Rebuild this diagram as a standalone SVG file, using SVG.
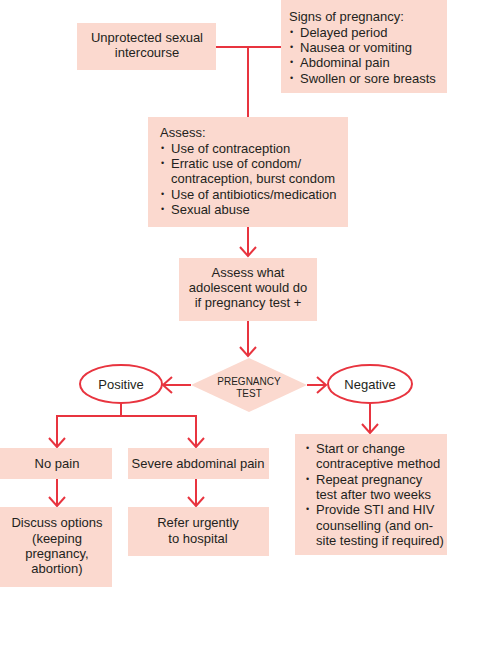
<svg xmlns="http://www.w3.org/2000/svg" width="484" height="672" viewBox="0 0 484 672">
<defs>
<style>
.box{fill:#fbd9cf;stroke:none}
.t{font-family:"Liberation Sans",Arial,sans-serif;font-size:13px;fill:#231f20}
.c{text-anchor:middle}
.s{font-size:10px}
.b{font-size:9px}
.ln{fill:none;stroke:#e8343f;stroke-width:2}
.ell{fill:#fff;stroke:#e8343f;stroke-width:2}
</style>
<marker id="ah" markerUnits="userSpaceOnUse" viewBox="0 0 12 18" refX="10" refY="9" markerWidth="12" markerHeight="18" orient="auto">
<path d="M1,1 L10,9 L1,17" fill="none" stroke="#e8343f" stroke-width="2"/>
</marker>
</defs>
<rect width="484" height="672" fill="#fff"/>
<g id="connectors">
<path class="ln" d="M216,47 H281"/>
<path class="ln" d="M248,47 V117"/>
<path class="ln" d="M248,227 V256" marker-end="url(#ah)"/>
<path class="ln" d="M248,321 V356" marker-end="url(#ah)"/>
<path class="ln" d="M191,385 H163" marker-end="url(#ah)"/>
<path class="ln" d="M307,385 H326" marker-end="url(#ah)"/>
<path class="ln" d="M121,403 V416"/>
<path class="ln" d="M57,416 H196"/>
<path class="ln" d="M57,415 V447" marker-end="url(#ah)"/>
<path class="ln" d="M196,415 V447" marker-end="url(#ah)"/>
<path class="ln" d="M57,479 V506" marker-end="url(#ah)"/>
<path class="ln" d="M196,479 V506" marker-end="url(#ah)"/>
<path class="ln" d="M370,403 V433" marker-end="url(#ah)"/>
</g>
<g id="n-unprotected">
<rect class="box" x="77" y="23" width="139" height="47"/>
<text class="t c" x="147" y="42">Unprotected sexual</text>
<text class="t c" x="147" y="57">intercourse</text>
</g>
<g id="n-signs">
<rect class="box" x="281" y="0" width="166" height="93"/>
<text class="t" x="289" y="21">Signs of pregnancy:</text>
<text class="t b" x="290" y="35">•</text><text class="t" x="300" y="37">Delayed period</text>
<text class="t b" x="290" y="50">•</text><text class="t" x="300" y="52">Nausea or vomiting</text>
<text class="t b" x="290" y="65">•</text><text class="t" x="300" y="67">Abdominal pain</text>
<text class="t b" x="290" y="81">•</text><text class="t" x="300" y="83">Swollen or sore breasts</text>
</g>
<g id="n-assess">
<rect class="box" x="148" y="117" width="200" height="110"/>
<text class="t" x="160" y="137">Assess:</text>
<text class="t b" x="161" y="151">•</text><text class="t" x="171" y="153">Use of contraception</text>
<text class="t b" x="161" y="166">•</text><text class="t" x="171" y="168">Erratic use of condom/</text>
<text class="t" x="171" y="183">contraception, burst condom</text>
<text class="t b" x="161" y="197">•</text><text class="t" x="171" y="199">Use of antibiotics/medication</text>
<text class="t b" x="161" y="212">•</text><text class="t" x="171" y="214">Sexual abuse</text>
</g>
<g id="n-adolescent">
<rect class="box" x="179" y="258" width="138" height="63"/>
<text class="t c" x="248" y="277">Assess what</text>
<text class="t c" x="248" y="292">adolescent would do</text>
<text class="t c" x="248" y="307">if pregnancy test +</text>
</g>
<g id="n-test">
<polygon class="box" points="249,358 307,385 249,412 191,385"/>
<text class="t c s" x="249" y="385">PREGNANCY</text>
<text class="t c s" x="249" y="397">TEST</text>
</g>
<g id="n-positive">
<ellipse class="ell" cx="121" cy="384" rx="41" ry="19"/>
<text class="t c" x="121" y="389">Positive</text>
</g>
<g id="n-negative">
<ellipse class="ell" cx="370" cy="384" rx="42" ry="19"/>
<text class="t c" x="370" y="389">Negative</text>
</g>
<g id="n-nopain">
<rect class="box" x="0" y="448" width="112" height="31"/>
<text class="t c" x="57" y="468">No pain</text>
</g>
<g id="n-severe">
<rect class="box" x="128" y="448" width="141" height="31"/>
<text class="t c" x="198" y="468">Severe abdominal pain</text>
</g>
<g id="n-discuss">
<rect class="box" x="0" y="507" width="112" height="80"/>
<text class="t c" x="57" y="527">Discuss options</text>
<text class="t c" x="57" y="543">(keeping</text>
<text class="t c" x="57" y="558">pregnancy,</text>
<text class="t c" x="57" y="573">abortion)</text>
</g>
<g id="n-refer">
<rect class="box" x="128" y="507" width="141" height="49"/>
<text class="t c" x="198" y="527">Refer urgently</text>
<text class="t c" x="198" y="543">to hospital</text>
</g>
<g id="n-negbox">
<rect class="box" x="295" y="434" width="152" height="121"/>
<text class="t b" x="306" y="451">•</text><text class="t" x="316" y="453">Start or change</text>
<text class="t" x="316" y="468">contraceptive method</text>
<text class="t b" x="306" y="482">•</text><text class="t" x="316" y="484">Repeat pregnancy</text>
<text class="t" x="316" y="499">test after two weeks</text>
<text class="t b" x="306" y="512">•</text><text class="t" x="316" y="514">Provide STI and HIV</text>
<text class="t" x="316" y="530">counselling (and on-</text>
<text class="t" x="316" y="545">site testing if required)</text>
</g>
</svg>
